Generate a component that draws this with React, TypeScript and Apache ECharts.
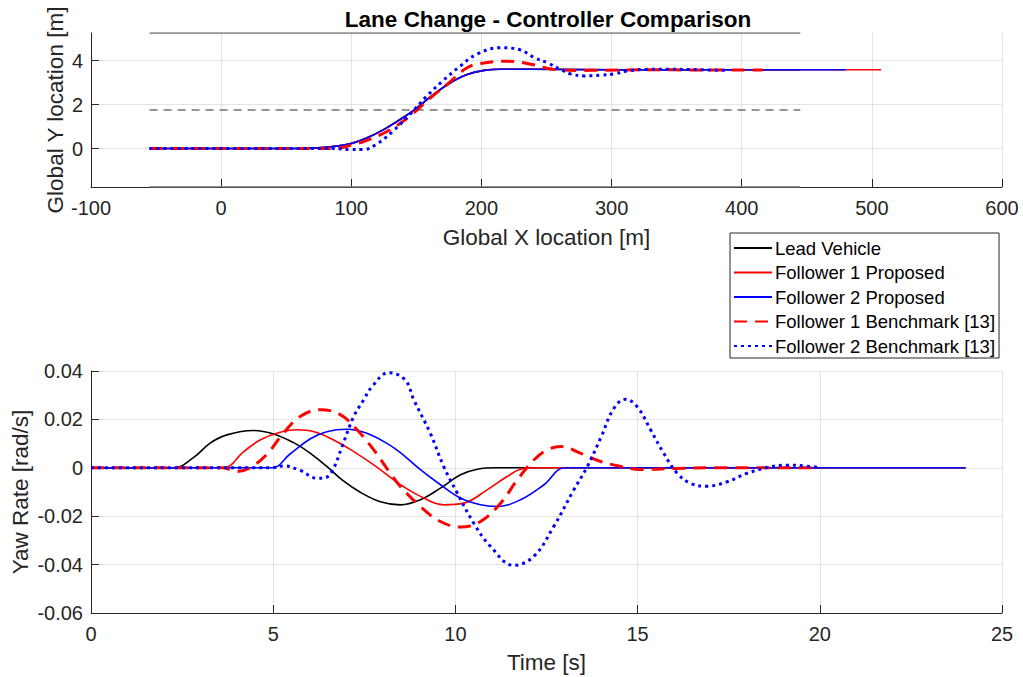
import React, { useEffect, useRef } from "react";
import * as echarts from "echarts";

// ---------- Top plot: trajectories (Global X [m], Global Y [m]) ----------
const leadX = [-55, 60, 72, 86, 99, 112, 125, 137.7, 148, 163, 176, 189, 202, 215, 238, 300, 445];
const leadY = [0, 0, 0.02, 0.09, 0.22, 0.49, 0.87, 1.33, 1.74, 2.45, 2.98, 3.36, 3.55, 3.6, 3.6, 3.58, 3.58];

const f1pX = [-55, 60, 72, 86, 99, 112, 125, 137.7, 148, 163, 176, 189, 202, 215, 238, 300, 400, 507];
const f1pY = [0, 0, 0.02, 0.09, 0.21, 0.48, 0.86, 1.32, 1.73, 2.45, 2.98, 3.36, 3.55, 3.6, 3.6, 3.58, 3.58, 3.58];

const f2pX = [-55, 60, 72, 86, 99, 112, 125, 137.7, 148, 163, 176, 189, 202, 215, 238, 300, 400, 480];
const f2pY = [0, 0, 0.02, 0.09, 0.21, 0.48, 0.86, 1.32, 1.73, 2.45, 2.98, 3.36, 3.55, 3.6, 3.6, 3.58, 3.58, 3.58];

const f1bX = [-55, 86, 101.5, 114, 130, 145, 160.8, 173.6, 189, 202, 220, 239, 255, 276, 294, 330, 370, 416];
const f1bY = [0, 0, 0.18, 0.41, 0.86, 1.47, 2.3, 2.91, 3.67, 3.89, 3.97, 3.82, 3.6, 3.55, 3.56, 3.58, 3.57, 3.57];

const f2bX = [-55, 86, 99, 109, 119, 132, 145, 158, 170, 183.6, 196, 214, 230, 240, 250.8, 261, 268.5, 279, 291.8, 302, 312, 330, 343, 368, 388];
const f2bY = [0, 0, -0.05, -0.05, 0.18, 0.79, 1.55, 2.38, 3.06, 3.74, 4.27, 4.58, 4.48, 4.15, 3.89, 3.59, 3.39, 3.3, 3.33, 3.39, 3.52, 3.6, 3.6, 3.58, 3.55];

// lane markings
const laneX = [-55, 445];
const laneTopY = [5.25, 5.25];
const laneMidY = [1.75, 1.75];
const laneBotY = [-1.75, -1.75];

// ---------- Bottom plot: yaw rate (Time [s], Yaw Rate [rad/s]) ----------
const leadT = [0, 2.26, 2.81, 3.27, 3.73, 4.46, 5.01, 5.56, 6.02, 6.47, 6.89, 7.4, 7.94, 8.49, 9.04, 9.59, 10.14, 10.6, 11.14, 24];
const leadYaw = [0, 0, 0.0042, 0.0102, 0.0136, 0.0154, 0.014, 0.0104, 0.006, 0.0006, -0.005, -0.0102, -0.014, -0.0153, -0.0132, -0.0084, -0.0029, -0.0006, 0, 0];

const f1pT = [0, 3.63, 4.19, 4.64, 5.1, 5.65, 6.1, 6.66, 7.21, 7.76, 8.31, 8.49, 9.04, 9.68, 10.23, 10.87, 11.42, 11.79, 12.25, 24];
const f1pYaw = [0, 0, 0.0067, 0.0115, 0.0143, 0.0157, 0.015, 0.0115, 0.0067, 0.0012, -0.005, -0.007, -0.0118, -0.0153, -0.0146, -0.0091, -0.0036, -0.0006, 0, 0];

const f2pT = [0, 4.96, 5.47, 6.02, 6.47, 7.02, 7.57, 8.12, 8.49, 9.04, 9.59, 10.14, 10.69, 11.14, 11.79, 12.43, 13.02, 24];
const f2pYaw = [0, 0, 0.0058, 0.012, 0.0149, 0.0159, 0.0143, 0.0101, 0.0063, -0.0008, -0.007, -0.0125, -0.0153, -0.016, -0.0132, -0.007, 0, 0];

const f1bT = [0, 3.63, 3.99, 4.36, 4.82, 5.28, 5.74, 6.29, 6.84, 7.3, 7.76, 8.21, 8.49, 9.04, 9.59, 10.14, 10.69, 11.24, 11.7, 12.16, 12.52, 12.89, 13.44, 13.99, 14.53, 15.08, 16, 17, 20];
const f1bYaw = [0, 0, -0.0015, 0, 0.0055, 0.0143, 0.0212, 0.024, 0.022, 0.0157, 0.0074, -0.0022, -0.0077, -0.016, -0.0222, -0.0245, -0.0222, -0.0146, -0.005, 0.0033, 0.0074, 0.0088, 0.006, 0.0026, 0.0006, -0.0007, -0.0003, 0, 0];

const f2bT = [0, 4.96, 5.28, 5.74, 6.2, 6.38, 6.61, 6.89, 7.21, 7.48, 7.71, 8.17, 8.62, 8.86, 9.31, 9.68, 10.05, 10.5, 10.96, 11.6, 12.15, 12.7, 13.25, 13.62, 14.0, 14.35, 14.67, 14.99, 15.36, 15.72, 16.09, 16.46, 16.9, 17.45, 18.0, 18.56, 19.1, 19.63, 20];
const f2bYaw = [0, 0, 0.0008, -0.0011, -0.0043, -0.0043, -0.0015, 0.0088, 0.0212, 0.028, 0.0335, 0.0393, 0.0363, 0.028, 0.0143, 0.0005, -0.0104, -0.0228, -0.0324, -0.0403, -0.0366, -0.0242, -0.0091, 0.0005, 0.0128, 0.0246, 0.0283, 0.0252, 0.0156, 0.0059, -0.0023, -0.0065, -0.0076, -0.0058, -0.0023, 0.0001, 0.0011, 0.0007, 0.0001];

// ---------- labels ----------
const seriesNames = ["Lead Vehicle", "Follower 1 Proposed", "Follower 2 Proposed", "Follower 1 Benchmark [13]", "Follower 2 Benchmark [13]"];
const titleText = "Lane Change - Controller Comparison";
const topXName = "Global X location [m]";
const topYName = "Global Y location [m]";
const botXName = "Time [s]";
const botYName = "Yaw Rate [rad/s]";
const topYTicks = [0, 2, 4];

const FONT = "Liberation Sans, Arial, Helvetica, sans-serif";
const AX = "#262626";
const GRIDC = "#e3e3e3";

const zip = (a: number[], b: number[]) => a.map((v, i) => [v, b[i]]);

const styles = [
  { color: "#000000", width: 1.6, type: "solid" },
  { color: "#ff0000", width: 1.6, type: "solid" },
  { color: "#0000ff", width: 1.6, type: "solid" },
  { color: "#ff0000", width: 3, type: [13, 8] },
  { color: "#0000ff", width: 3, type: [3, 4] },
];

function mk(name: string, data: number[][], idx: number, st: any, z: number, smooth: number = 0.4) {
  return {
    type: "line",
    name,
    xAxisIndex: idx,
    yAxisIndex: idx,
    data,
    symbol: "none",
    showSymbol: false,
    smooth,
    silent: true,
    z,
    lineStyle: { color: st.color, width: st.width, type: st.type, cap: "butt" },
    itemStyle: { color: st.color, opacity: 0 },
  };
}

export default function App() {
  const ref = useRef<HTMLDivElement>(null);
  useEffect(() => {
    if (!ref.current) return;
    const chart = echarts.init(ref.current, null, { renderer: "svg" });

    const axisCommon = {
      axisLine: { show: true, onZero: false, lineStyle: { color: AX, width: 1 } },
      axisTick: { show: true, inside: true, length: 8, lineStyle: { color: AX, width: 1 } },
      axisLabel: { color: AX, fontSize: 20, fontFamily: FONT, showMinLabel: true, showMaxLabel: true },
      splitLine: { show: true, lineStyle: { color: GRIDC, width: 1 } },
      nameTextStyle: { color: AX, fontSize: 22.5, fontFamily: FONT },
      nameLocation: "middle",
      nameMoveOverlap: false,
    };

    const topData = [zip(leadX, leadY), zip(f1pX, f1pY), zip(f2pX, f2pY), zip(f1bX, f1bY), zip(f2bX, f2bY)];
    const botData = [zip(leadT, leadYaw), zip(f1pT, f1pYaw), zip(f2pT, f2pYaw), zip(f1bT, f1bYaw), zip(f2bT, f2bYaw)];

    const laneStyleSolid = { color: "#707070", width: 1.6, type: "solid" };
    const laneStyleDash = { color: "#707070", width: 1.6, type: [8, 6] };

    const series: any[] = [
      mk("laneTop", zip(laneX, laneTopY), 0, laneStyleSolid, 1, 0),
      mk("laneMid", zip(laneX, laneMidY), 0, laneStyleDash, 1, 0),
      mk("laneBot", zip(laneX, laneBotY), 0, laneStyleSolid, 1, 0),
    ];
    seriesNames.forEach((n, i) => series.push(mk(n, topData[i], 0, styles[i], 2 + i)));
    seriesNames.forEach((n, i) => series.push(mk(n, botData[i], 1, styles[i], 2 + i)));

    chart.setOption({
      animation: false,
      backgroundColor: "#ffffff",
      title: {
        text: titleText,
        left: 543,
        top: 3,
        textAlign: "center",
        textStyle: { fontSize: 22.5, fontWeight: "bold", color: "#000", fontFamily: FONT },
      },
      legend: {
        data: seriesNames,
        orient: "vertical",
        left: 730,
        top: 233,
        itemWidth: 38,
        itemHeight: 12,
        itemGap: 4.5,
        padding: [5, 4, 2, 3],
        borderColor: AX,
        borderWidth: 1,
        borderRadius: 0,
        backgroundColor: "#ffffff",
        selectedMode: false,
        itemStyle: { opacity: 0 },
        textStyle: { color: "#000", fontSize: 18.5, fontFamily: FONT, lineHeight: 20, padding: [0, 0, 0, -2] },
      },
      grid: [
        { left: 91, top: 33, width: 911, height: 154, containLabel: false, outerBoundsMode: "none" },
        { left: 91, top: 371, width: 911, height: 242, containLabel: false, outerBoundsMode: "none" },
      ],
      xAxis: [
        {
          ...axisCommon,
          type: "value",
          gridIndex: 0,
          min: -100,
          max: 600,
          interval: 100,
          name: topXName,
          nameGap: 39,
          axisLabel: { ...axisCommon.axisLabel, margin: 11 },
        },
        {
          ...axisCommon,
          type: "value",
          gridIndex: 1,
          min: 0,
          max: 25,
          interval: 5,
          name: botXName,
          nameGap: 38,
          axisLabel: { ...axisCommon.axisLabel, margin: 11 },
        },
      ],
      yAxis: [
        {
          ...axisCommon,
          type: "value",
          gridIndex: 0,
          min: -1.75,
          max: 5.25,
          name: topYName,
          nameGap: 24,
          axisTick: { ...axisCommon.axisTick, customValues: topYTicks },
          axisLabel: { ...axisCommon.axisLabel, margin: 8, customValues: topYTicks },
        },
        {
          ...axisCommon,
          type: "value",
          gridIndex: 1,
          min: -0.06,
          max: 0.04,
          interval: 0.02,
          name: botYName,
          nameGap: 59,
          axisLabel: {
            ...axisCommon.axisLabel,
            margin: 8,
            formatter: (v: number) => String(Number(v.toFixed(3))),
          },
        },
      ],
      series,
    });
    return () => chart.dispose();
  }, []);
  return <div ref={ref} style={{ position: "absolute", left: 0, top: 0, width: 1023, height: 677 }} />;
}
